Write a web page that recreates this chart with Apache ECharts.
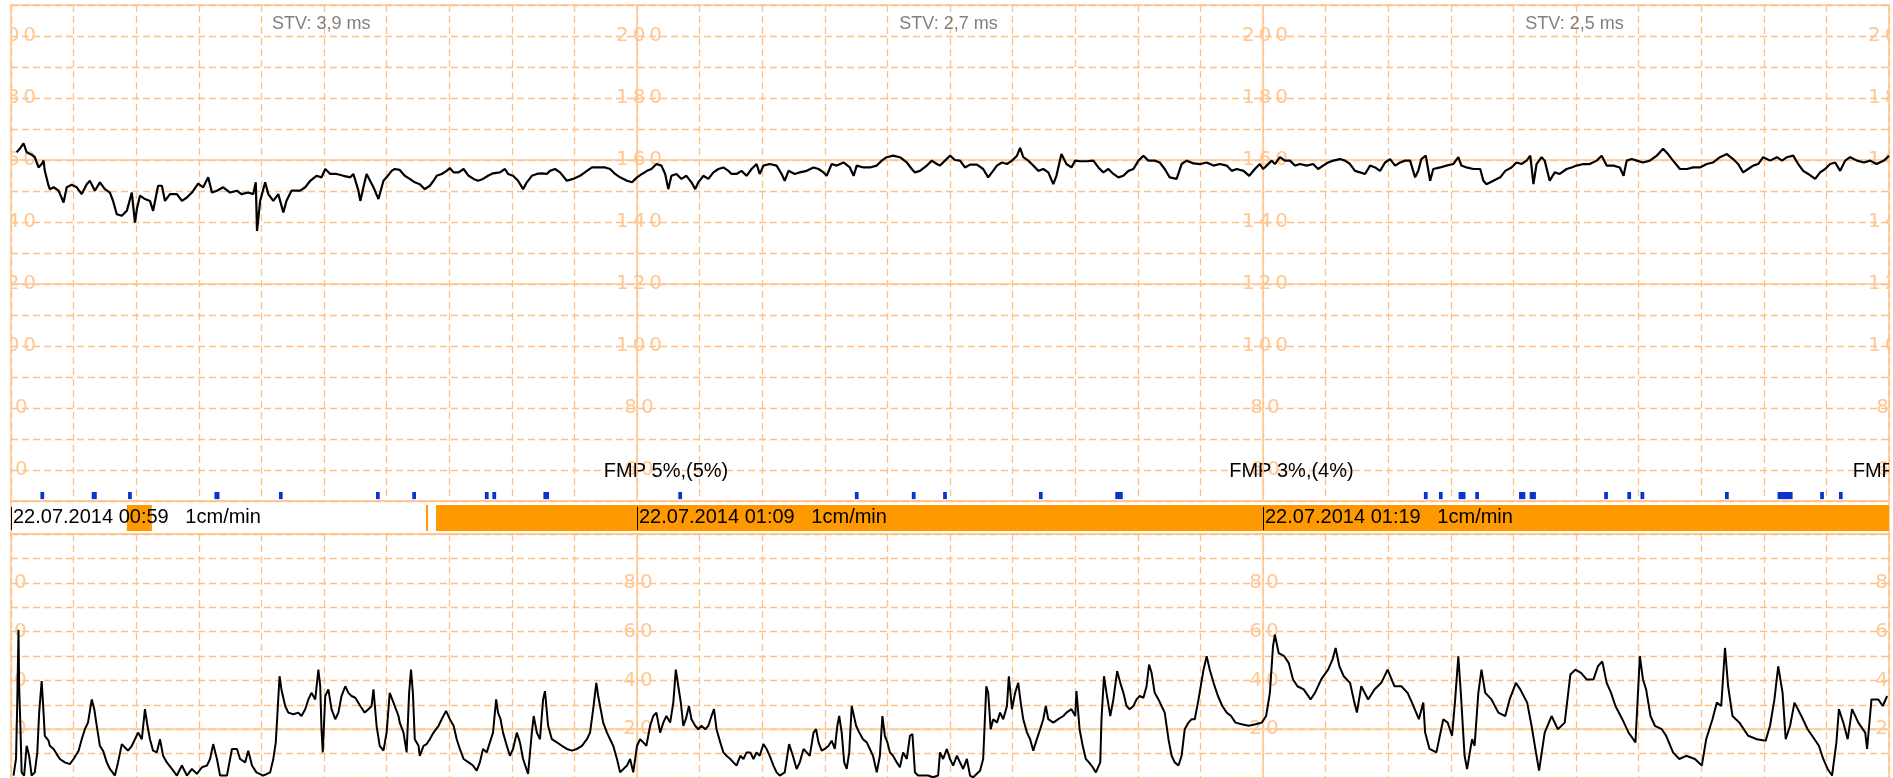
<!DOCTYPE html>
<html><head><meta charset="utf-8">
<script src="https://cdn.jsdelivr.net/npm/echarts@6/dist/echarts.min.js"></script>
<style>html,body{margin:0;padding:0;background:#fff}#c{width:1893px;height:778px}</style>
</head><body><div id="c"></div>
<script>
// ---- Fetal heart rate trace (minutes since 00:59, bpm)
const fhrTime=[0.09,0.14,0.20,0.25,0.33,0.38,0.44,0.49,0.52,0.54,0.60,0.62,0.68,0.76,0.84,0.89,0.97,1.05,1.13,1.21,1.26,1.34,1.42,1.50,1.58,1.63,1.69,1.77,1.85,1.93,1.98,2.01,2.06,2.14,2.22,2.27,2.35,2.41,2.46,2.54,2.65,2.73,2.81,2.89,2.99,3.07,3.15,3.21,3.29,3.39,3.50,3.61,3.68,3.79,3.87,3.91,3.93,3.98,4.06,4.11,4.19,4.27,4.35,4.40,4.48,4.62,4.70,4.78,4.88,4.96,5.02,5.10,5.20,5.31,5.42,5.47,5.55,5.58,5.63,5.68,5.79,5.87,5.95,6.00,6.08,6.13,6.21,6.29,6.37,6.45,6.53,6.61,6.69,6.75,6.80,6.88,6.96,7.01,7.07,7.15,7.23,7.31,7.39,7.46,7.54,7.62,7.70,7.81,7.89,7.94,8.02,8.10,8.18,8.24,8.32,8.40,8.48,8.56,8.61,8.69,8.77,8.88,8.98,9.09,9.20,9.28,9.38,9.49,9.57,9.65,9.73,9.84,9.92,10.00,10.08,10.16,10.23,10.31,10.39,10.45,10.50,10.55,10.63,10.71,10.79,10.87,10.93,10.98,11.06,11.14,11.22,11.30,11.38,11.46,11.51,11.59,11.67,11.75,11.83,11.91,11.96,12.02,12.12,12.23,12.31,12.36,12.42,12.52,12.60,12.71,12.82,12.90,12.98,13.03,13.11,13.19,13.30,13.40,13.46,13.51,13.62,13.72,13.83,13.91,13.99,14.09,14.20,14.31,14.39,14.44,14.52,14.63,14.71,14.79,14.84,14.92,15.00,15.08,15.16,15.24,15.32,15.43,15.53,15.61,15.67,15.75,15.83,15.91,15.99,16.07,16.12,16.17,16.25,16.33,16.41,16.49,16.57,16.65,16.70,16.78,16.86,16.94,17.00,17.08,17.18,17.29,17.37,17.45,17.53,17.61,17.69,17.77,17.85,17.93,18.01,18.09,18.17,18.27,18.35,18.43,18.51,18.62,18.70,18.78,18.89,19.00,19.10,19.21,19.31,19.42,19.50,19.58,19.69,19.78,19.87,19.95,20.00,20.06,20.14,20.19,20.27,20.35,20.43,20.51,20.59,20.70,20.80,20.88,20.96,21.04,21.12,21.23,21.31,21.39,21.47,21.55,21.63,21.71,21.79,21.87,21.95,22.03,22.11,22.19,22.27,22.35,22.43,22.48,22.53,22.60,22.67,22.72,22.83,22.93,23.04,23.12,23.17,23.25,23.36,23.47,23.52,23.57,23.68,23.79,23.87,23.97,24.05,24.13,24.21,24.27,24.32,24.37,24.45,24.50,24.58,24.66,24.74,24.85,24.93,25.01,25.12,25.22,25.33,25.41,25.49,25.60,25.70,25.76,25.81,25.89,25.97,26.07,26.18,26.29,26.39,26.47,26.55,26.66,26.77,26.87,26.98,27.09,27.19,27.30,27.41,27.51,27.59,27.67,27.75,27.83,27.91,27.99,28.10,28.21,28.29,28.37,28.47,28.55,28.63,28.71,28.82,28.90,28.98,29.06,29.14,29.22,29.30,29.38,29.49,29.60,29.70,29.80,29.92,30.00];
const fhrValue=[162.5,163.6,165.4,162.5,161.7,160.9,157.6,158.7,159.8,156.5,151.7,150.6,151.2,150.1,146.3,151.2,152.0,151.2,149.0,152.2,153.3,150.1,152.8,150.6,149.5,146.8,142.5,142.0,143.6,149.5,139.8,144.1,148.5,147.4,146.8,143.6,151.7,151.7,146.8,149.0,149.0,146.8,147.9,149.5,152.4,151.2,154.4,149.5,150.1,151.2,149.5,150.1,149.0,149.5,149.0,152.8,137.1,146.8,152.8,149.0,146.8,149.0,143.1,146.8,150.1,150.1,151.2,153.3,154.9,154.4,157.1,155.5,155.5,154.9,154.4,155.5,150.1,146.8,151.2,155.5,151.2,147.4,153.3,154.4,156.5,157.1,156.8,154.9,153.9,152.8,152.2,150.6,151.7,153.3,154.9,155.5,156.5,157.4,156.0,156.0,157.1,154.9,153.9,153.3,153.9,154.9,155.7,156.0,157.1,155.5,154.9,153.3,150.6,152.8,154.9,155.5,155.7,155.5,156.5,157.1,156.0,153.3,153.9,154.9,156.5,157.6,157.6,157.6,157.1,155.5,154.4,153.3,152.8,154.4,155.5,156.5,157.1,158.7,158.2,155.5,150.6,154.9,155.5,153.9,154.9,152.8,150.6,152.8,154.9,153.9,156.0,157.1,157.6,156.5,155.5,155.5,156.5,154.9,157.1,158.7,155.5,158.2,158.7,158.2,155.5,153.3,156.5,155.5,156.0,156.5,157.6,157.1,156.0,154.9,158.7,158.2,159.2,157.6,154.9,158.2,157.6,157.6,158.2,159.8,160.9,161.4,160.9,159.2,157.1,156.0,156.5,158.2,159.8,158.7,158.2,159.8,161.4,160.0,159.8,157.6,158.5,158.5,157.1,154.4,156.0,158.2,159.2,158.7,159.8,161.4,163.9,160.9,159.8,158.2,156.5,157.1,156.0,152.2,154.9,161.9,158.7,157.6,159.8,159.6,159.6,159.8,157.6,156.0,157.1,155.5,154.4,154.9,156.5,157.1,159.8,161.4,159.8,159.8,159.2,157.1,154.4,153.9,158.7,159.8,158.9,158.7,159.2,158.2,158.7,158.2,156.5,157.1,156.5,154.9,157.1,158.7,157.1,158.2,159.8,158.7,160.9,159.8,159.8,158.2,158.7,158.2,158.7,157.1,158.2,159.2,159.8,160.3,159.8,158.7,156.5,156.0,155.5,158.2,157.6,156.5,159.2,160.3,158.2,159.2,159.8,159.8,154.4,156.5,160.3,161.4,153.3,157.1,157.6,158.2,158.7,160.9,158.2,157.6,157.1,157.1,153.3,152.2,153.3,154.4,156.5,157.6,159.2,158.7,159.8,161.4,152.2,158.7,160.9,159.8,153.3,156.0,155.5,157.1,157.6,158.2,158.7,158.7,159.8,161.4,158.2,158.2,157.6,154.9,159.8,160.3,159.8,159.2,159.8,161.4,163.6,161.9,159.8,157.1,157.1,157.6,157.6,158.7,159.2,160.9,161.9,160.3,158.7,156.0,157.1,158.2,158.7,160.9,159.8,160.9,159.8,160.9,161.4,158.7,156.5,155.5,153.9,156.0,157.1,158.7,159.2,156.5,159.8,160.9,159.8,159.2,159.8,158.7,159.8,161.4];

// ---- Uterine activity trace (minutes since 00:59, units)
const tocoTime=[0.04,0.08,0.10,0.12,0.13,0.15,0.17,0.21,0.25,0.29,0.33,0.38,0.42,0.45,0.49,0.52,0.54,0.60,0.62,0.68,0.73,0.78,0.86,0.94,1.00,1.08,1.13,1.18,1.23,1.29,1.33,1.37,1.42,1.47,1.53,1.58,1.66,1.71,1.77,1.82,1.87,1.93,1.98,2.03,2.09,2.14,2.18,2.22,2.27,2.33,2.38,2.43,2.49,2.57,2.65,2.73,2.81,2.89,2.97,3.05,3.13,3.18,3.23,3.29,3.34,3.45,3.53,3.61,3.66,3.74,3.79,3.85,3.92,4.03,4.14,4.19,4.23,4.26,4.29,4.32,4.38,4.43,4.51,4.59,4.64,4.70,4.75,4.80,4.86,4.91,4.94,4.96,4.98,5.02,5.07,5.12,5.18,5.23,5.28,5.34,5.39,5.44,5.50,5.58,5.65,5.71,5.76,5.79,5.84,5.89,5.95,6.00,6.05,6.11,6.19,6.21,6.27,6.32,6.36,6.39,6.42,6.45,6.51,6.53,6.59,6.64,6.69,6.75,6.83,6.88,6.95,7.01,7.07,7.12,7.17,7.23,7.31,7.38,7.44,7.49,7.54,7.60,7.65,7.70,7.75,7.78,7.82,7.86,7.92,7.97,8.02,8.08,8.13,8.18,8.26,8.32,8.35,8.40,8.45,8.50,8.53,8.58,8.64,8.72,8.80,8.88,8.96,9.04,9.12,9.20,9.25,9.30,9.35,9.38,9.41,9.46,9.52,9.57,9.62,9.68,9.73,9.84,9.89,9.94,10.00,10.05,10.10,10.15,10.21,10.26,10.31,10.37,10.42,10.47,10.53,10.58,10.62,10.66,10.70,10.74,10.78,10.83,10.87,10.93,10.98,11.03,11.09,11.14,11.19,11.23,11.27,11.33,11.38,11.43,11.49,11.54,11.59,11.65,11.70,11.75,11.81,11.86,11.91,11.96,12.02,12.07,12.12,12.18,12.23,12.28,12.36,12.43,12.49,12.55,12.60,12.66,12.71,12.76,12.82,12.86,12.90,12.95,13.00,13.06,13.11,13.16,13.20,13.23,13.27,13.31,13.35,13.39,13.43,13.46,13.50,13.55,13.61,13.67,13.72,13.77,13.83,13.88,13.92,13.96,14.00,14.04,14.09,14.15,14.20,14.25,14.31,14.36,14.40,14.44,14.49,14.57,14.65,14.73,14.81,14.84,14.89,14.95,15.00,15.05,15.11,15.16,15.21,15.27,15.32,15.37,15.48,15.53,15.58,15.61,15.65,15.69,15.75,15.80,15.85,15.91,15.94,15.99,16.04,16.09,16.13,16.17,16.23,16.28,16.33,16.38,16.44,16.49,16.53,16.57,16.65,16.73,16.81,16.86,16.94,17.00,17.02,17.07,17.12,17.17,17.22,17.28,17.33,17.40,17.42,17.46,17.50,17.56,17.61,17.67,17.72,17.77,17.82,17.87,17.93,17.98,18.03,18.09,18.14,18.18,18.22,18.27,18.33,18.38,18.43,18.49,18.54,18.59,18.65,18.70,18.75,18.81,18.86,18.91,18.97,19.05,19.10,19.15,19.21,19.28,19.35,19.42,19.49,19.56,19.66,19.77,19.88,19.98,20.05,20.11,20.16,20.19,20.25,20.34,20.41,20.48,20.55,20.65,20.76,20.83,20.93,21.04,21.11,21.16,21.22,21.29,21.39,21.46,21.50,21.57,21.68,21.78,21.89,21.99,22.10,22.21,22.31,22.38,22.49,22.56,22.59,22.66,22.77,22.88,22.95,23.02,23.07,23.12,23.16,23.22,23.26,23.34,23.38,23.44,23.49,23.55,23.65,23.76,23.87,23.94,24.04,24.11,24.22,24.29,24.36,24.41,24.50,24.61,24.71,24.82,24.91,24.99,25.08,25.17,25.28,25.35,25.42,25.49,25.56,25.63,25.74,25.84,25.95,26.02,26.07,26.12,26.19,26.26,26.37,26.44,26.55,26.65,26.76,26.90,27.01,27.08,27.18,27.25,27.32,27.38,27.43,27.50,27.61,27.75,27.89,28.03,28.10,28.17,28.23,28.30,28.35,28.42,28.49,28.60,28.70,28.81,28.88,28.95,29.02,29.09,29.16,29.20,29.27,29.34,29.41,29.51,29.62,29.65,29.72,29.83,29.90,29.97];
const tocoValue=[1.0,7.8,30.9,60.7,37.6,21.4,2.3,1.0,13.2,9.1,1.0,2.3,10.5,26.8,39.7,26.8,17.3,15.3,13.2,11.9,9.8,7.8,6.4,5.7,7.8,11.2,15.9,20.0,22.7,32.2,28.2,21.4,13.2,11.2,6.4,3.7,1.0,6.4,13.9,12.5,11.2,13.2,15.9,18.6,15.9,28.2,21.4,15.9,11.2,10.5,15.9,9.1,6.4,3.7,1.0,5.1,1.0,3.7,1.7,4.4,5.1,7.8,13.9,7.8,1.0,1.0,11.9,11.9,7.8,6.4,11.2,5.1,2.3,1.0,2.3,7.8,14.6,28.2,41.7,36.3,29.5,26.8,26.1,26.8,25.4,28.2,32.2,34.9,32.2,44.4,37.6,20.0,10.5,33.6,36.3,28.2,24.1,26.8,33.6,37.6,34.9,33.6,32.9,29.5,26.8,28.2,29.5,36.3,21.4,13.2,11.2,18.6,34.9,30.9,25.4,22.7,18.6,10.5,34.9,44.4,34.9,15.9,13.2,9.1,13.2,13.9,15.9,18.6,21.4,24.1,27.5,24.1,21.4,15.9,11.9,7.8,6.4,5.1,3.0,6.4,11.9,10.5,14.6,18.6,32.2,26.8,24.1,18.6,13.2,9.1,11.9,18.6,14.6,7.8,1.7,18.6,25.4,18.6,15.9,32.2,35.6,21.4,15.9,14.6,13.2,11.9,11.2,11.9,13.2,15.9,18.6,28.2,39.0,33.6,29.5,22.7,18.6,15.9,13.2,7.8,2.3,5.1,7.8,2.3,13.2,15.9,14.6,13.2,21.4,25.4,26.8,18.6,22.7,25.4,22.7,30.9,44.4,37.6,30.9,21.4,24.1,29.5,24.1,21.4,20.0,21.4,20.0,21.4,25.4,28.2,20.0,14.6,10.5,9.1,7.8,6.4,5.1,9.1,7.8,10.5,10.5,7.8,10.5,9.1,13.9,11.9,9.1,5.1,2.3,1.0,2.3,13.9,9.1,3.7,6.4,11.9,10.5,9.1,18.6,20.0,14.6,11.2,11.9,13.2,15.3,11.9,21.4,25.4,18.6,6.4,3.7,10.5,29.5,30.2,21.4,18.6,15.9,14.6,11.9,9.1,2.3,9.1,25.4,17.3,14.6,10.5,9.1,6.4,4.4,10.5,7.8,17.3,18.0,2.3,1.0,1.0,1.0,0.3,1.0,10.5,7.8,11.9,7.8,5.1,9.1,6.4,3.7,7.8,1.0,0.3,3.0,7.8,37.6,34.9,20.0,24.1,22.7,26.8,24.1,29.5,41.7,28.2,34.9,39.0,30.9,24.1,18.6,15.9,11.2,15.3,20.0,24.1,29.5,24.1,22.7,24.1,25.4,26.8,28.2,25.4,35.6,20.0,13.2,7.8,6.4,4.4,2.3,6.4,24.1,41.7,34.9,25.4,32.2,43.8,39.0,34.9,29.5,28.2,29.5,32.2,33.6,32.9,37.6,46.5,43.1,34.9,32.2,29.5,26.8,15.9,9.1,6.4,5.1,9.1,20.0,22.7,24.1,24.1,32.2,44.4,49.9,44.4,39.0,33.6,29.5,26.8,25.4,22.7,22.0,21.4,22.0,22.7,25.4,34.9,54.0,58.7,51.2,49.9,47.2,40.4,37.6,36.3,32.2,34.9,40.4,44.4,48.5,53.3,45.8,41.7,39.0,30.9,26.8,37.6,32.2,36.3,39.0,44.4,37.6,37.6,34.9,30.9,24.1,30.9,18.6,11.9,10.5,24.1,22.7,17.3,32.2,49.9,34.9,9.1,3.7,15.9,13.2,34.9,44.4,34.9,32.2,26.8,25.4,32.2,39.0,36.3,30.9,21.4,10.5,3.0,18.6,25.4,20.0,22.7,42.4,44.4,43.1,40.4,40.4,45.8,47.8,39.0,34.9,29.5,24.1,18.6,14.6,49.9,40.4,36.3,25.4,21.4,20.0,17.3,10.5,7.8,9.1,7.8,5.1,15.9,24.1,30.9,29.5,53.3,37.6,25.4,22.7,17.3,15.9,15.3,21.4,32.2,45.8,34.9,15.9,21.4,30.9,25.4,20.0,15.9,13.2,7.8,3.7,1.0,14.6,28.2,22.7,15.9,28.2,22.7,18.6,11.9,32.2,32.2,29.5,33.6];

// ---- Fetal movement marks (centre minute, duration in minutes)
const fmpTime=[0.50,1.33,1.90,3.29,4.31,5.86,6.44,7.60,7.72,8.55,10.69,13.51,14.42,14.92,16.45,17.70,22.60,22.84,23.18,23.42,24.14,24.31,25.48,25.85,26.06,27.41,28.34,28.93,29.23];
const fmpWidth=[0.06,0.08,0.06,0.08,0.06,0.06,0.06,0.06,0.06,0.09,0.06,0.06,0.06,0.06,0.06,0.12,0.06,0.06,0.11,0.06,0.10,0.10,0.06,0.06,0.06,0.06,0.24,0.06,0.06];

// ---- Texts and ticks
const blockStart=[0,10,20];
const blockClock=['00:59','01:09','01:19'];
const dateText='22.07.2014';
const speedText='1cm/min';
const stvText=['STV: 3,9 ms','STV: 2,7 ms','STV: 2,5 ms'];
const stvTime=[4.17,14.19,24.19];
const fmpText=['FMP 5%,(5%)','FMP 3%,(4%)','FMP'];
const fmpTextTime=[9.47,19.46,29.42];
const labelTimes=[0,10,20,30];
const fhrTicks=[200,180,160,140,120,100,80,60];
const tocoTicks=[80,60,40,20];
const fhrSolid=[120,160];
const tocoSolid=[20];
const blockLines=[10,20];
const selRange=[[6.79,30],[1.85,2.25]];
const selMark=[6.63];

const C_GRID='#ffc088', C_SOLID='#ffc792', C_LABEL='#ffc792', C_ORANGE='#ff9900', C_FMP='#0a35cc';
const zip=(a,b)=>a.map((t,i)=>[t,b[i]]);
const cross=(ts,vs)=>{const r=[];ts.forEach(t=>vs.forEach(v=>r.push([t,v])));return r;};
const spaced=s=>String(s).split('').join('\u2009');
const dash={show:true,lineStyle:{color:C_GRID,width:1.3,type:[7,4]}};
const hid={axisLine:{show:false},axisTick:{show:false},axisLabel:{show:false}};

function textRender(getText,font,fill,align,dx){
  return function(params,api){
    const p=api.coord([api.value(0),api.value(1)]);
    return {type:'text',x:p[0]+dx,y:p[1],style:{text:getText(params.dataIndex,api),font:font,fill:fill,
      align:align,verticalAlign:'middle',textAlign:align,textVerticalAlign:'middle'}};
  };
}
function solidLines(xi,yi,hs,vs){
  return {type:'line',xAxisIndex:xi,yAxisIndex:yi,data:[],z:1,silent:true,
    markLine:{silent:true,symbol:['none','none'],label:{show:false},animation:false,
      lineStyle:{color:C_SOLID,type:'solid',width:1.6},
      data:[...hs.map(v=>({yAxis:v})),...vs.map(t=>({xAxis:t}))]}};
}

const chart=echarts.init(document.getElementById('c'));
chart.setOption({
  animation:false,
  backgroundColor:'#ffffff',
  grid:[
    {left:11,right:4,top:5,height:496,show:true,borderColor:C_SOLID,borderWidth:1.6,backgroundColor:'transparent'},
    {left:11,right:4,top:501,height:33,show:true,borderColor:C_SOLID,borderWidth:1.6,backgroundColor:'transparent'},
    {left:11,right:4,top:534,height:245,show:true,borderColor:C_SOLID,borderWidth:1.6,backgroundColor:'transparent'}
  ],
  xAxis:[
    Object.assign({gridIndex:0,type:'value',min:0,max:30,interval:1,splitLine:dash},hid),
    {gridIndex:1,type:'value',min:0,max:30,show:false},
    Object.assign({gridIndex:2,type:'value',min:0,max:30,interval:1,splitLine:dash},hid)
  ],
  yAxis:[
    Object.assign({gridIndex:0,type:'value',min:50,max:210,interval:10,splitLine:dash},hid),
    {gridIndex:1,type:'value',min:0,max:1,show:false},
    Object.assign({gridIndex:2,type:'value',min:0,max:100,interval:10,splitLine:dash},hid)
  ],
  series:[
    solidLines(0,0,fhrSolid,blockLines),
    solidLines(2,2,tocoSolid,blockLines),
    {type:'custom',xAxisIndex:0,yAxisIndex:0,clip:true,z:1,silent:true,
      data:cross(labelTimes,fhrTicks),
      renderItem:textRender((i,api)=>spaced(api.value(1)),'20px "DejaVu Sans"',C_LABEL,'center',2)},
    {type:'custom',xAxisIndex:2,yAxisIndex:2,clip:true,z:1,silent:true,
      data:cross(labelTimes,tocoTicks),
      renderItem:textRender((i,api)=>spaced(api.value(1)),'20px "DejaVu Sans"',C_LABEL,'center',1)},
    {type:'custom',xAxisIndex:0,yAxisIndex:0,clip:true,z:2,silent:true,
      data:stvTime.map(t=>[t,204]),
      renderItem:textRender(i=>stvText[i],'18px "Liberation Sans"','#808080','left',0)},
    {type:'custom',xAxisIndex:0,yAxisIndex:0,clip:true,z:2,silent:true,
      data:fmpTextTime.map(t=>[t,59.4]),
      renderItem:textRender(i=>fmpText[i],'20px "Liberation Sans"','#000000','left',0)},
    {type:'custom',xAxisIndex:0,yAxisIndex:0,clip:true,z:2,silent:true,
      data:zip(fmpTime,fmpWidth),
      renderItem:function(params,api){
        const a=api.coord([api.value(0)-api.value(1)/2,52.9]);
        const b=api.coord([api.value(0)+api.value(1)/2,50.6]);
        return {type:'rect',shape:{x:a[0],y:a[1],width:Math.max(2,b[0]-a[0]),height:b[1]-a[1]},style:{fill:C_FMP}};
      }},
    // time bar
    {type:'custom',xAxisIndex:1,yAxisIndex:1,clip:true,z:1,silent:true,
      data:selRange,
      renderItem:function(params,api){
        const a=api.coord([api.value(0),0.88]);
        const b=api.coord([api.value(1),0.09]);
        return {type:'rect',shape:{x:a[0],y:a[1],width:b[0]-a[0],height:b[1]-a[1]},style:{fill:C_ORANGE}};
      }},
    {type:'custom',xAxisIndex:1,yAxisIndex:1,clip:true,z:1,silent:true,
      data:selMark.map(t=>[t]),
      renderItem:function(params,api){
        const a=api.coord([api.value(0),0.88]);
        const b=api.coord([api.value(0),0.09]);
        return {type:'rect',shape:{x:a[0],y:a[1],width:2,height:b[1]-a[1]},style:{fill:C_ORANGE}};
      }},
    {type:'custom',xAxisIndex:1,yAxisIndex:1,clip:true,z:2,silent:true,
      data:labelTimes.map(t=>[t]),
      renderItem:function(params,api){
        const a=api.coord([api.value(0),0.82]);
        const b=api.coord([api.value(0),0.12]);
        return {type:'line',shape:{x1:Math.round(a[0])+0.5,y1:a[1],x2:Math.round(a[0])+0.5,y2:b[1]},style:{stroke:'#000',lineWidth:1}};
      }},
    {type:'custom',xAxisIndex:1,yAxisIndex:1,clip:true,z:3,silent:true,
      data:blockStart.map(t=>[t,0.5]),
      renderItem:textRender(i=>dateText+' '+blockClock[i]+'   '+speedText,'20px "Liberation Sans"','#000000','left',2)},
    // traces
    {type:'line',xAxisIndex:0,yAxisIndex:0,z:5,silent:true,symbol:'none',
      data:zip(fhrTime,fhrValue),lineStyle:{color:'#000000',width:2.2}},
    {type:'line',xAxisIndex:2,yAxisIndex:2,z:5,silent:true,symbol:'none',
      data:zip(tocoTime,tocoValue),lineStyle:{color:'#000000',width:2}}
  ]
});
</script></body></html>
